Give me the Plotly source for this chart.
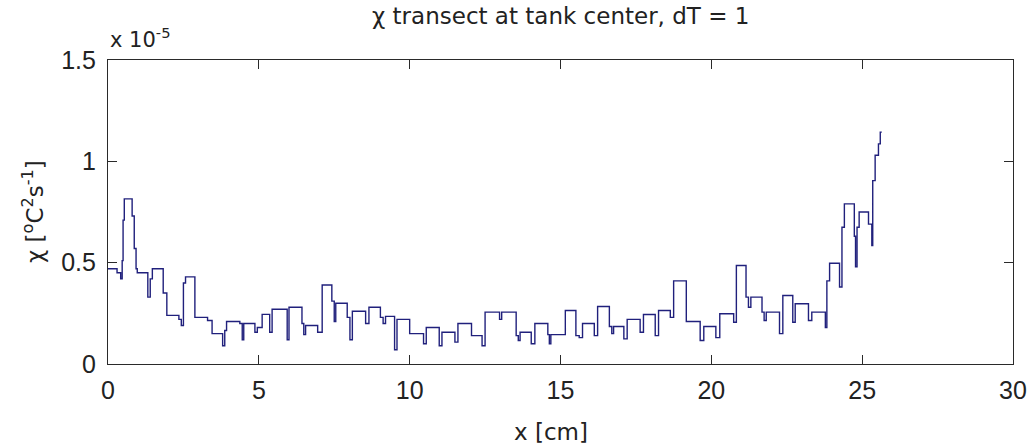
import plotly.graph_objects as go

# step start positions (cm) and chi levels (x 1e-5 degC^2/s)
x_cm = [0.00, 0.30, 0.42, 0.47, 0.50, 0.54, 0.80, 0.87, 0.93, 0.97,
        1.32, 1.40, 1.47, 1.83, 1.95, 2.35, 2.43, 2.50, 2.57, 2.88,
        3.30, 3.45, 3.80, 3.87, 3.93, 4.37, 4.45, 4.50, 4.87, 4.95,
        5.11, 5.36, 5.44, 5.94, 6.00, 6.43, 6.49, 6.55, 6.95, 7.10,
        7.42, 7.50, 7.55, 7.93, 8.02, 8.10, 8.54, 8.65, 9.03, 9.12,
        9.20, 9.50, 9.58, 10.00, 10.46, 10.55, 10.98, 11.07, 11.50, 11.60,
        12.05, 12.40, 12.50, 12.98, 13.05, 13.53, 13.60, 13.66, 14.03, 14.15,
        14.58, 14.63, 14.68, 15.16, 15.51, 15.62, 15.73, 16.12, 16.23, 16.62,
        16.70, 16.76, 17.10, 17.21, 17.64, 17.75, 18.14, 18.25, 18.64, 18.75,
        19.17, 19.63, 19.75, 20.15, 20.28, 20.74, 20.83, 21.15, 21.23, 21.31,
        21.68, 21.75, 21.82, 22.26, 22.37, 22.70, 22.78, 23.22, 23.33, 23.78,
        23.83, 23.92, 24.25, 24.33, 24.41, 24.74, 24.78, 24.83, 24.90, 25.21,
        25.32, 25.35, 25.43, 25.54, 25.60, 25.65]
chi = [0.47, 0.45, 0.42, 0.51, 0.71, 0.815, 0.73, 0.57, 0.47, 0.45,
       0.33, 0.42, 0.47, 0.35, 0.24, 0.22, 0.19, 0.40, 0.43, 0.23,
       0.215, 0.15, 0.09, 0.165, 0.21, 0.20, 0.12, 0.20, 0.157, 0.18,
       0.245, 0.157, 0.27, 0.12, 0.28, 0.20, 0.145, 0.19, 0.157, 0.39,
       0.31, 0.21, 0.30, 0.23, 0.12, 0.26, 0.20, 0.28, 0.23, 0.20,
       0.235, 0.07, 0.22, 0.15, 0.10, 0.18, 0.09, 0.157, 0.108, 0.20,
       0.14, 0.09, 0.256, 0.22, 0.256, 0.14, 0.116, 0.157, 0.10, 0.20,
       0.145, 0.10, 0.145, 0.264, 0.14, 0.13, 0.20, 0.14, 0.284, 0.185,
       0.15, 0.185, 0.124, 0.22, 0.157, 0.244, 0.14, 0.264, 0.23, 0.41,
       0.21, 0.116, 0.185, 0.13, 0.248, 0.206, 0.486, 0.33, 0.28, 0.33,
       0.256, 0.215, 0.256, 0.15, 0.338, 0.206, 0.297, 0.215, 0.256, 0.18,
       0.41, 0.497, 0.38, 0.675, 0.79, 0.63, 0.48, 0.675, 0.75, 0.69,
       0.585, 0.905, 1.03, 1.086, 1.144, 1.144]

x_ticks = [0, 5, 10, 15, 20, 25, 30]
y_ticks = [0, 0.5, 1, 1.5]
y_ticktext = ["0", "0.5", "1", "1.5"]

FONT = "Liberation Sans, Arial, sans-serif"
LFONT = "DejaVu Sans, Liberation Sans, sans-serif"
AX = "#2a2a2a"
TXT = "#222222"

fig = go.Figure()
fig.add_trace(go.Scatter(x=x_cm, y=chi, mode="lines", line_shape="hv",
                         line=dict(color="#20207c", width=1.4),
                         showlegend=False, hoverinfo="skip"))

axis_common = dict(showgrid=False, zeroline=False, showline=True, linecolor=AX,
                   linewidth=1.2, mirror="ticks", ticks="inside", ticklen=9,
                   tickwidth=1.2, tickcolor=AX,
                   tickfont=dict(family=FONT, size=25, color=TXT))
fig.update_xaxes(range=[0, 30], tickvals=x_ticks, ticktext=[str(v) for v in x_ticks],
                 ticklabelstandoff=4, **axis_common)
fig.update_yaxes(range=[0, 1.5], tickvals=y_ticks, ticktext=y_ticktext,
                 ticklabelstandoff=6, **axis_common)

fig.update_layout(
    width=1031, height=446,
    margin=dict(l=108, r=18, t=60, b=82, autoexpand=False),
    paper_bgcolor="white", plot_bgcolor="white",
    annotations=[
        dict(text="χ transect at tank center, dT = 1", xref="paper", yref="paper",
             x=0.5, y=1, yshift=44, xanchor="center", yanchor="middle", showarrow=False,
             font=dict(family=LFONT, size=23, color=TXT)),
        dict(text="x 10<sup>-5</sup>", xref="paper", yref="paper",
             x=0, y=1, yshift=22, xanchor="left", yanchor="middle", showarrow=False,
             font=dict(family=LFONT, size=21, color=TXT)),
        dict(text="x [cm]", xref="paper", yref="paper",
             x=0.5, y=0, xshift=-10, yshift=-68, xanchor="center", yanchor="middle",
             showarrow=False, font=dict(family=LFONT, size=23, color=TXT)),
        dict(text="χ [<sup>o</sup>C<sup>2</sup>s<sup>-1</sup>]", xref="paper", yref="paper",
             x=0, y=0.5, xshift=-75, xanchor="center", yanchor="middle", showarrow=False,
             textangle=-90, font=dict(family=LFONT, size=23, color=TXT)),
    ],
)

fig.write_html("out.html")
